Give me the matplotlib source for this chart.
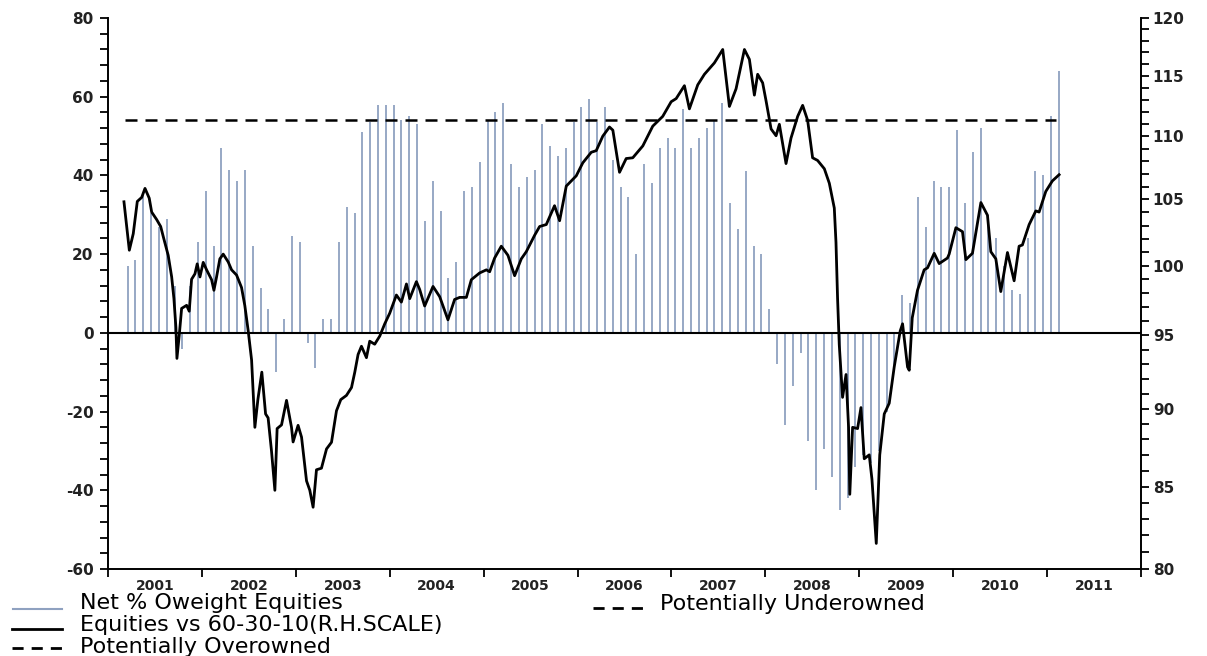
import numpy as np
import pandas as pd
import matplotlib
matplotlib.use('Agg')
import matplotlib.pyplot as plt
from matplotlib.lines import Line2D
from matplotlib.ticker import FixedLocator, MultipleLocator, NullFormatter, FuncFormatter

# --- data ---
years = list(range(2001, 2012))

# monthly net % overweight equities (left scale), Mar 2001 .. Feb 2011
bar_months = pd.period_range('2001-03', '2011-02', freq='M')
net_oweight = [
    17, 18.5, 35, 30.5, 27, 29, 12, -4, 12, 23,                     # 2001
    36, 22, 47, 41.5, 38.5, 41.5, 22, 11.5, 6, -10, 3.5, 24.5,      # 2002
    23, -2.5, -9, 3.5, 3.5, 23, 32, 30.5, 51, 53.5, 58, 58,         # 2003
    58, 54, 55, 53, 28.5, 38.5, 31, 14, 18, 36, 37, 43.5,           # 2004
    54, 56, 58.5, 43, 37, 39.5, 41.5, 53, 47.5, 45, 47, 53.5,       # 2005
    57.5, 59.5, 53.5, 57.5, 44, 37, 34.5, 20, 43, 38, 47, 49.5,     # 2006
    47, 57, 47, 49.5, 52, 54, 58.5, 33, 26.5, 41, 22, 20,           # 2007
    6, -8, -23.5, -13.5, -5, -27.5, -40, -29.5, -36.5, -45, -42, -34,  # 2008
    -31, -33, -30, -20, -9, 9.5, 7.5, 34.5, 27, 38.5, 37, 37,       # 2009
    51.5, 33, 46, 52, 30, 24, 17, 11, 10, 24, 41, 40,               # 2010
    55, 66.5,                                                       # 2011
]

# equities vs 60-30-10 benchmark (right hand log scale)
line_t = [
    2001.170, 2001.227, 2001.269, 2001.312, 2001.359, 2001.394, 2001.439, 2001.465,
    2001.518, 2001.561, 2001.588, 2001.641, 2001.678, 2001.702, 2001.723, 2001.734,
    2001.759, 2001.784, 2001.837, 2001.865, 2001.890, 2001.926, 2001.950, 2001.979,
    2002.014, 2002.050, 2002.103, 2002.128, 2002.156, 2002.191, 2002.227, 2002.280,
    2002.316, 2002.369, 2002.422, 2002.457, 2002.493, 2002.529, 2002.564, 2002.596,
    2002.638, 2002.678, 2002.705, 2002.741, 2002.777, 2002.801, 2002.848, 2002.901,
    2002.954, 2002.971, 2003.024, 2003.061, 2003.114, 2003.149, 2003.184, 2003.220,
    2003.273, 2003.327, 2003.380, 2003.433, 2003.479, 2003.539, 2003.593, 2003.628,
    2003.663, 2003.699, 2003.752, 2003.787, 2003.840, 2003.894, 2003.947, 2004.000,
    2004.071, 2004.124, 2004.178, 2004.213, 2004.284, 2004.319, 2004.372, 2004.461,
    2004.532, 2004.603, 2004.620, 2004.691, 2004.745, 2004.816, 2004.869, 2004.957,
    2005.029, 2005.064, 2005.117, 2005.188, 2005.259, 2005.330, 2005.401, 2005.454,
    2005.543, 2005.596, 2005.667, 2005.755, 2005.809, 2005.880, 2005.986, 2006.056,
    2006.146, 2006.199, 2006.269, 2006.340, 2006.376, 2006.429, 2006.447, 2006.518,
    2006.588, 2006.695, 2006.801, 2006.907, 2006.997, 2007.050, 2007.138, 2007.191,
    2007.280, 2007.351, 2007.457, 2007.546, 2007.617, 2007.688, 2007.777, 2007.830,
    2007.883, 2007.918, 2007.971, 2008.007, 2008.061, 2008.114, 2008.149, 2008.220,
    2008.273, 2008.344, 2008.397, 2008.450, 2008.503, 2008.556, 2008.628, 2008.681,
    2008.734, 2008.752, 2008.769, 2008.787, 2008.822, 2008.859, 2008.886, 2008.899,
    2008.929, 2008.982, 2009.018, 2009.053, 2009.106, 2009.135, 2009.181, 2009.218,
    2009.266, 2009.319, 2009.372, 2009.436, 2009.461, 2009.514, 2009.532, 2009.564,
    2009.620, 2009.691, 2009.727, 2009.798, 2009.851, 2009.939, 2009.957, 2010.029,
    2010.099, 2010.135, 2010.205, 2010.295, 2010.365, 2010.401, 2010.454, 2010.507,
    2010.578, 2010.649, 2010.702, 2010.737, 2010.809, 2010.880, 2010.915, 2010.986,
    2011.056, 2011.128,
]
line_v = [
    104.82, 101.15, 102.39, 104.85, 105.16, 105.86, 105.10, 104.03,
    103.46, 102.93, 102.18, 100.77, 99.18, 97.61, 95.57, 93.41,
    95.04, 96.91, 97.13, 96.71, 99.01, 99.41, 100.14, 99.18,
    100.25, 99.70, 98.98, 98.21, 99.18, 100.51, 100.86, 100.28,
    99.70, 99.32, 98.41, 97.11, 95.32, 93.30, 88.79, 90.62,
    92.47, 89.67, 89.41, 87.26, 84.77, 88.71, 88.95, 90.57,
    88.79, 87.84, 88.92, 88.15, 85.36, 84.77, 83.72, 86.06,
    86.16, 87.39, 87.82, 89.88, 90.62, 90.90, 91.43, 92.47,
    93.68, 94.25, 93.46, 94.60, 94.39, 94.96, 95.82, 96.57,
    97.87, 97.36, 98.67, 97.61, 98.84, 98.27, 97.08, 98.49,
    97.75, 96.43, 96.10, 97.55, 97.70, 97.70, 98.98, 99.47,
    99.70, 99.56, 100.57, 101.45, 100.77, 99.27, 100.51, 101.04,
    102.27, 102.93, 103.08, 104.52, 103.37, 106.04, 106.84, 107.87,
    108.71, 108.84, 110.01, 110.75, 110.49, 107.99, 107.12, 108.21,
    108.27, 109.22, 110.82, 111.62, 112.83, 113.09, 114.17, 112.24,
    114.24, 115.13, 116.10, 117.25, 112.44, 113.91, 117.25, 116.40,
    113.38, 115.13, 114.41, 112.92, 110.59, 110.04, 110.97, 107.81,
    109.85, 111.62, 112.53, 111.30, 108.27, 108.06, 107.40, 106.26,
    104.34, 101.74, 97.61, 94.35, 90.77, 92.31, 88.79, 84.52,
    88.79, 88.71, 90.09, 86.76, 87.01, 85.46, 81.52, 87.01,
    89.67, 90.38, 92.82, 95.32, 95.82, 92.82, 92.60, 96.24,
    98.21, 99.70, 99.85, 100.92, 100.16, 100.57, 100.86, 102.84,
    102.54, 100.45, 100.92, 104.76, 103.79, 101.04, 100.51, 98.12,
    100.98, 98.90, 101.45, 101.54, 103.08, 104.12, 104.03, 105.62,
    106.44, 106.93,
]

overowned_level = 54
overowned_span = (2001.18, 2011.10)

right_ticks = list(range(80, 121, 5))

# --- figure ---
plt.rcParams['font.family'] = ['DejaVu Sans']
plt.rcParams['axes.unicode_minus'] = False

W, H = 1207, 656
fig = plt.figure(figsize=(W / 100, H / 100), dpi=100)
ax = fig.add_axes([108 / W, 1 - 569 / H, (1141 - 108) / W, (569 - 18) / H])

bar_color = '#8fa1c0'
bar_x = bar_months.year + (bar_months.month - 0.5) / 12
ax.vlines(bar_x, 0, net_oweight, colors=bar_color, linewidth=1.3, zorder=2)
ax.axhline(0, color='black', linewidth=1.5, zorder=3)
ax.hlines(overowned_level, *overowned_span, colors='black',
          linestyles=(0, (4.8, 3.2)), linewidth=1.8, zorder=4)

ax.set_xlim(2001, 2012)
ax.set_ylim(-60, 80)
ax.yaxis.set_major_locator(MultipleLocator(20))
ax.yaxis.set_minor_locator(MultipleLocator(4))
ax.tick_params(axis='y', which='both', direction='out', length=5.5, width=1.3,
               labelsize=11, pad=5, labelcolor='#222222')

ax.set_xticks(range(2001, 2013))
ax.set_xticklabels([])
ax.set_xticks([y + 0.5 for y in years], minor=True)
ax.set_xticklabels([str(y) for y in years], minor=True)
ax.tick_params(axis='x', which='major', direction='out', length=6, width=1.3)
ax.tick_params(axis='x', which='minor', length=0, pad=7, labelsize=10,
               labelcolor='#222222')

for side in ['top', 'right']:
    ax.spines[side].set_visible(False)
for side in ['left', 'bottom']:
    ax.spines[side].set_linewidth(1.4)

# right hand scale
ax2 = ax.twinx()
ax2.set_yscale('log')
ax2.plot(line_t, line_v, color='black', linewidth=2.0, zorder=5)
ax2.set_ylim(80, 120)
ax2.yaxis.set_major_locator(FixedLocator(right_ticks))
ax2.yaxis.set_major_formatter(FuncFormatter(lambda v, p: f'{v:.0f}'))
ax2.yaxis.set_minor_locator(FixedLocator(range(80, 121)))
ax2.yaxis.set_minor_formatter(NullFormatter())
ax2.tick_params(axis='y', which='both', direction='out', length=5.5, width=1.3,
                labelsize=11, pad=3, labelcolor='#222222')
for side in ['top', 'left', 'bottom']:
    ax2.spines[side].set_visible(False)
ax2.spines['right'].set_linewidth(1.4)

for lab in ax.get_yticklabels() + ax.get_xticklabels(minor=True) + ax2.get_yticklabels():
    lab.set_fontweight('bold')

# legend drawn below the plot
def px(x, y):
    return x / W, 1 - y / H

def legend_entry(x0, x1, ly, tx, ty, label, **style):
    (a, b), (c, _) = px(x0, ly), px(x1, ly)
    fig.add_artist(Line2D([a, c], [b, b], **style))
    fx, fy = px(tx, ty)
    fig.text(fx, fy, label, fontsize=16, va='baseline', ha='left', color='black')

dash = (0, (4, 2.9))
legend_entry(13, 62, 609, 80, 609, 'Net % Oweight Equities',
             color=bar_color, linewidth=1.5)
legend_entry(12, 62, 629, 80, 631, 'Equities vs 60-30-10(R.H.SCALE)',
             color='black', linewidth=2.0)
legend_entry(12, 62, 648, 80, 653, 'Potentially Overowned',
             color='black', linewidth=2.0, linestyle=dash)
legend_entry(593, 645, 608, 660, 610, 'Potentially Underowned',
             color='black', linewidth=2.0, linestyle=dash)

fig.savefig('out.png', dpi=100)
